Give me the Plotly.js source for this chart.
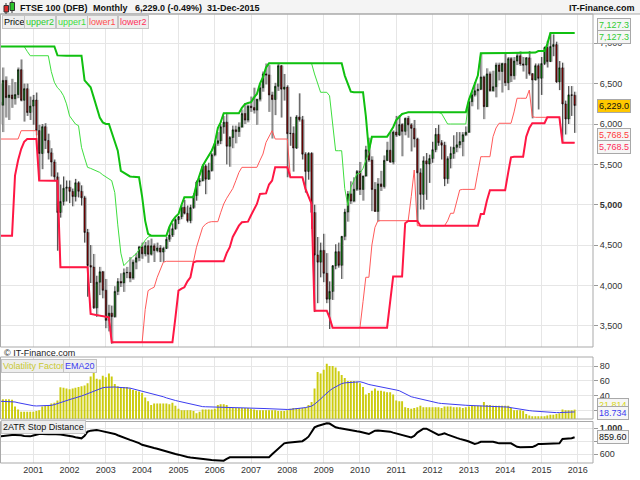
<!DOCTYPE html>
<html><head><meta charset="utf-8">
<script src="https://cdn.plot.ly/plotly-3.0.1.min.js"></script>
<style>html,body{margin:0;padding:0;background:#fff}#chart{width:640px;height:480px}</style>
</head><body><div id="chart"></div>
<script>
// Monthly bars from Feb 2000 to Dec 2015
const firstYear = 2000, firstMonth = 2;
const openPx = [6268,6233,6540,6327,6359,6313,6365,6673,6294,6438,6142,
6222,6297,5918,5634,5967,5796,5643,5529,5345,4903,5040,5204,
5217,5165,5101,5272,5166,5085,4656,4246,4227,3722,4040,4169,
3940,3567,3656,3613,3926,4048,4031,4157,4161,4091,4288,4343,
4477,4391,4492,4386,4490,4431,4464,4413,4459,4571,4624,4703,
4814,4852,4968,4894,4802,4964,5113,5282,5297,5478,5317,5423,
5619,5760,5792,5965,6023,5724,5833,5928,5906,5961,6129,6049,
6221,6203,6172,6308,6449,6621,6608,6360,6303,6467,6722,6432,
6457,5880,5884,5702,6087,6054,5626,5412,5637,4903,4377,4288,
4434,4150,3830,3926,4244,4418,4249,4608,4909,5134,5045,5191,
5413,5189,5355,5680,5553,5188,4917,5258,5225,5549,5675,5528,
5900,5863,5994,5909,6070,5990,5946,5815,5395,5128,5544,5505,
5572,5682,5872,5768,5738,5321,5571,5635,5711,5742,5783,5867,
5898,6277,6361,6412,6430,6583,6215,6621,6413,6462,6731,6651,
6749,6510,6810,6598,6780,6845,6744,6730,6820,6623,6546,6723,
6566,6749,6947,6773,6961,6984,6521,6696,6248,6062,6361,6356];
const highPx = [6500,6700,6590,6480,6560,6520,6700,6800,6500,6500,6340,
6360,6390,5990,6000,6010,5880,5700,5560,5400,5250,5350,5300,
5300,5200,5320,5290,5240,5110,4700,4500,4390,4120,4230,4180,
4080,3760,3750,3990,4090,4150,4210,4230,4350,4320,4400,4490,
4530,4540,4560,4580,4520,4530,4500,4480,4600,4720,4770,4830,
4860,5000,5060,4990,5000,5140,5300,5330,5500,5500,5520,5640,
5780,5900,6000,6100,6140,5850,5980,5980,6020,6180,6260,6240,
6340,6450,6310,6500,6650,6750,6730,6400,6510,6750,6730,6620,
6480,6090,5970,6110,6380,6100,5650,5650,5650,5000,4600,4530,
4640,4400,4050,4250,4510,4530,4610,4950,5170,5290,5340,5430,
5530,5360,5730,5830,5600,5280,5330,5420,5610,5780,5900,5920,
6100,6110,6010,6080,6100,6010,6050,5830,5450,5600,5640,5620,
5780,5950,5990,5800,5780,5600,5720,5860,5900,5900,5900,5970,
6290,6400,6520,6500,6876,6600,6690,6650,6660,6760,6760,6760,
6870,6830,6830,6830,6880,6900,6830,6830,6904,6630,6750,6750,
6830,6960,7030,7127,7110,7020,6780,6760,6290,6470,6470,6400];
const lowPx = [6000,5900,6080,6050,6200,6240,6320,6280,6030,6100,6050,
5990,5860,5310,5440,5690,5560,5350,5300,4430,4840,4990,5040,
5020,4980,5040,5090,4990,4530,3860,4030,3710,3610,3880,3840,
3470,3430,3277,3600,3880,3980,3920,4090,4040,4070,4200,4300,
4330,4360,4280,4370,4290,4410,4290,4290,4450,4540,4600,4690,
4760,4820,4880,4780,4770,4950,5050,5230,5290,5130,5310,5410,
5600,5730,5750,5880,5500,5470,5700,5760,5840,5960,6000,6020,
6150,6130,5990,6280,6400,6490,6150,5820,6110,6410,6080,6290,
5340,5730,5410,5690,6030,5560,5150,5310,4700,3670,3780,4100,
4040,3780,3460,3820,4200,4220,4080,4560,4790,5010,5030,5170,
5120,5050,5350,5530,4920,4910,4790,5170,5200,5540,5520,5500,
5840,5850,5600,5860,5830,5660,5710,4790,4940,4940,5060,5270,
5520,5650,5730,5560,5230,5260,5450,5570,5650,5700,5600,5850,
5890,6220,6340,6180,6420,6060,6210,6400,6400,6330,6540,6390,
6470,6420,6520,6550,6730,6720,6650,6560,6600,6070,6540,6180,
6360,6730,6700,6770,6840,6510,6420,5768,5870,6000,6100,5890];
const closePx = [6233,6540,6327,6359,6313,6365,6673,6294,6438,6142,6222,
6297,5918,5634,5967,5796,5643,5529,5345,4903,5040,5204,5217,
5165,5101,5272,5166,5085,4656,4246,4227,3722,4040,4169,3940,
3567,3656,3613,3926,4048,4031,4157,4161,4091,4288,4343,4477,
4391,4492,4386,4490,4431,4464,4413,4459,4571,4624,4703,4814,
4852,4968,4894,4802,4964,5113,5282,5297,5478,5317,5423,5619,
5760,5792,5965,6023,5724,5833,5928,5906,5961,6129,6049,6221,
6203,6172,6308,6449,6621,6608,6360,6303,6467,6722,6432,6457,
5880,5884,5702,6087,6054,5626,5412,5637,4903,4377,4288,4434,
4150,3830,3926,4244,4418,4249,4608,4909,5134,5045,5191,5413,
5189,5355,5680,5553,5188,4917,5258,5225,5549,5675,5528,5900,
5863,5994,5909,6070,5990,5946,5815,5395,5128,5544,5505,5572,
5682,5872,5768,5738,5321,5571,5635,5711,5742,5783,5867,5898,
6277,6361,6412,6430,6583,6215,6621,6413,6462,6731,6651,6749,
6510,6810,6598,6780,6845,6744,6730,6820,6623,6546,6723,6566,
6749,6947,6773,6961,6984,6521,6696,6248,6062,6361,6356,6229];

const upper2 = [6960,6960,6960,6960,6960,6960,6960,6960,6960,6960,6960,
6960,6960,6960,6960,6960,6960,6960,6960,6850,6846,6846,6846,
6846,6846,6846,6846,6846,6540,6500,6455,6330,6200,6080,6020,
6000,6000,5900,5790,5670,5420,5400,5380,5350,5345,5340,5340,
5100,4800,4640,4616,4616,4616,4616,4616,4616,4724,4800,4850,
4885,5000,5092,5092,5092,5092,5250,5380,5480,5545,5610,5669,
5760,5950,6020,6133,6133,6133,6133,6133,6133,6200,6248,6260,
6270,6330,6372,6500,6579,6700,6752,6752,6752,6752,6752,6752,
6752,6752,6752,6752,6752,6752,6752,6752,6752,6752,6752,6752,
6752,6752,6752,6752,6752,6752,6752,6600,6500,6400,6393,6393,
6393,6393,6100,5669,5843,5843,5843,5843,5843,5843,5900,5960,
6050,6090,6124,6135,6145,6145,6145,6145,6145,6145,6145,6145,
6145,6145,6145,6145,6145,6145,6145,6145,6145,6145,6145,6145,
6300,6413,6500,6600,6876,6876,6876,6876,6876,6876,6876,6876,
6876,6876,6876,6876,6876,6885,6885,6885,6885,6885,6885,6904,
6904,6904,6990,7127.3,7127.3,7127.3,7127.3,7127.3,7127.3,7127.3,7127.3,7127.3];
const upper1 = [6960,6960,6960,6960,6960,6960,6960,6960,6960,6900,6846,
6846,6846,6846,6846,6846,6846,6650,6517,6450,6413,6350,6250,
6100,6041,6000,5979,5711,5580,5463,5450,5430,5421,5400,5370,
5340,5320,5298,5150,4750,4400,4245,4287,4320,4360,4389,4450,
4513,4560,4600,4616,4616,4616,4616,4616,4616,4724,4800,4850,
4885,5000,5092,5092,5092,5092,5250,5380,5480,5545,5610,5669,
5760,5950,6020,6133,6133,6133,6133,6133,6133,6200,6248,6260,
6270,6330,6372,6500,6579,6700,6752,6752,6752,6752,6752,6752,
6752,6752,6752,6752,6752,6752,6752,6752,6752,6620,6500,6393,
6393,6393,6350,6000,5669,5669,5669,5200,4988,5216,5300,5380,
5390,5450,5550,5640,5843,5843,5843,5843,5843,5843,5900,5960,
6050,6090,6124,6135,6145,6145,6145,6145,6145,6145,6145,6145,
6145,6145,6145,6130,6060,6000,6000,6000,6000,6000,6000,6000,
6300,6413,6500,6600,6876,6876,6876,6876,6876,6876,6876,6876,
6876,6876,6876,6876,6876,6885,6885,6885,6885,6885,6885,6904,
6904,6904,6990,7127.3,7127.3,7127.3,7127.3,7127.3,7127.3,7127.3,7127.3,7127.3];
const lower1 = [5814,5814,5814,5814,5814,5814,5814,5917,5917,5917,5917,
5917,5917,5300,5298,5298,5298,5298,5298,5298,4225,4225,4225,
4225,4225,4225,4225,4225,4225,4225,3646,3640,3630,3625,3615,
3610,3605,3295,3295,3295,3295,3295,3295,3295,3295,3295,3295,
3295,3700,3935,3960,3977,4101,4200,4287,4299,4299,4299,4299,
4299,4299,4299,4299,4299,4299,4473,4600,4720,4760,4782,4790,
4790,4790,4900,5009,5080,5133,5200,5298,5400,5463,5463,5463,
5463,5463,5463,5550,5628,5773,5835,5917,5814,5814,5814,5814,
5814,5340,5340,5340,5340,5340,5200,5092,5009,3687,3687,3687,
3687,3687,3600,3476,3476,3476,3476,3476,3476,3476,3476,3476,
3476,3800,4101,4101,4500,4720,4802,4802,4802,4802,4802,4802,
4802,4802,4802,4802,4802,5100,5430,4740,4740,4740,4740,4740,
4740,4740,4740,4740,4740,4800,4894,4894,5050,5183,5190,5190,
5190,5190,5190,5400,5595,5595,5595,5595,5843,5950,6009,6009,
6009,6009,6009,6150,6319,6319,6319,6319,6421,6091,6083,6083,
6083,6083,6083,6083,6083,6083,6083,5768.5,5768.5,5768.5,5768.5,5768.5];
const lower2 = [4616,4616,4616,4616,4616,5360,5550,5690,5780,5814,5814,
5814,5814,5300,5298,5298,5298,5298,5298,5298,4225,4225,4225,
4225,4225,4225,4225,4225,4225,4225,3646,3640,3630,3625,3615,
3610,3605,3295,3295,3295,3295,3295,3295,3295,3295,3295,3295,
3295,3295,3295,3295,3295,3295,3295,3295,3295,3295,3295,3600,
3935,3960,3977,4050,4101,4287,4299,4299,4299,4299,4299,4299,
4299,4299,4299,4299,4400,4473,4600,4678,4740,4782,4790,4790,
4870,4950,5009,5133,5140,5140,5250,5298,5463,5463,5463,5463,
5463,5340,5340,5340,5340,5340,5200,5092,5009,3687,3687,3687,
3687,3687,3600,3476,3476,3476,3476,3476,3476,3476,3476,3476,
3476,3476,3476,3476,3476,3476,3476,3476,3476,3476,3800,4110,
4110,4110,4110,4770,4798,4798,4798,4798,4740,4740,4740,4740,
4740,4740,4740,4740,4740,4740,4740,4740,4740,4740,4740,4740,
4740,4740,4740,4740,4885,4885,5050,5180,5180,5180,5180,5180,
5180,5400,5588,5595,5595,5595,5595,5843,5950,6009,6009,6009,
6009,6009,6083,6083,6083,6083,6083,5768.5,5768.5,5768.5,5768.5,5768.5];

const volFactor = [35.6,35.6,35.6,35.6,35,26,22,19,19,19,19,
19,20,21,26,27,28,30,31,34,51.6,51,50,
49,50,51,52,53,54,57,66,71,63,62,67,
65,70,66,56,53,52,52,52,50,48,47,46,
44,38,33,28,30,30,30,30,30,29,31,27,
23,21,21,21,21,20,17,19,22,22,22,22,
23,28,29,29,28,25,24,24,24,24,24,24,
23,22,21,21,21,21,21,21,21,20,20,20,
21,23,24,24,24,24,25,28,32,50,72,70,
75,83,80,80,78,73,68,64,60,60,60,59,
57,52,42,44,47,50,47,47,46,45,45,42,
34,33,33,25,24,23,24,25,27,25,25,25,
25,25,25,24,26,26,26,25,25,25,24,25,
26,27,27,27,27,32,28,28,27,27,27,27,
27,27,24,21,21,21,20,16,14,13,13,13,
13,13,14,15,15,16,17,22,21,21,21,21.814];
const ema20 = [33,33,33,33,33,32,31,30,29,28,27.5,
27,26.7,26.7,26.7,26.7,27,27.5,28.5,30,31.5,33,34.5,
35.6,36.5,37.5,38.5,40,41.5,43,45,47,48.5,50,51,
51.6,52,52,52,51.6,51.5,51.3,51,50.5,49.5,48.5,47,
46,45,44,43,42,41,40,39,37.5,36,35,34,
33,32,31,30,29,28,27,26,25.8,25.6,25.5,25.4,
25.3,25.3,25.3,25.3,25.3,25.2,25.1,25,24.9,24.8,24.6,24.5,
24.3,24.1,24,23.8,23.5,23.2,23,22.7,22.4,22.2,22,22,
22,22.2,22.5,23,23.5,24,24.5,25.5,26.5,29,32,36,
40,44,47,50,52.5,54.5,56.5,57.5,58,58.5,58.8,59,
59,58,56.5,55.3,54.5,53.8,53,52.3,51.5,50.8,50,49,
48,47,45,43,41,39,38,37,35.5,34.5,33.5,32.7,
32,31,30.5,30,29.6,29.2,28.8,28.4,28.2,28,27.8,27.6,
27.4,27.2,27,27,27,27,27,26.8,26.6,26.5,26.3,26.2,
26,25.2,24.4,23.6,22.8,22,21.5,21,20.5,20,19.6,19.2,
18.9,18.6,18.3,18,17.8,17.8,17.9,18.1,18.3,18.5,18.6,18.734];
const stopDist = [873,880,885,890,893,895,898,890,880,875,873,
885,900,909,909,905,905,909,909,905,900,895,890,
880,870,860,850,843,880,944,960,970,970,960,950,
944,935,925,910,890,870,850,835,820,805,792,770,
745,730,720,710,695,685,670,655,640,628,615,605,
595,580,568,560,552,545,538,530,525,520,516,513,
510,506,503,503,530,554,554,554,554,554,554,554,
554,554,554,554,554,554,556,600,640,680,730,767,
775,780,785,790,792,800,830,868,940,1010,1030,1045,
1060,1071,1068,1040,1010,1000,990,980,975,965,955,950,
944,930,915,909,935,960,962,960,958,955,945,930,
919,905,893,880,870,858,880,930,960,990,990,965,
944,920,895,905,919,900,880,865,850,835,828,810,
795,775,757,770,790,792,792,795,792,780,767,770,
770,768,767,740,715,706,705,705,706,710,730,757,
757,757,760,762,765,767,767,833,835,838,845,859.6];

const priceTicks = [3500,4000,4500,5000,5500,6000,6500,7000];
const volTicks = [20,40,60,80];
const stopTicks = [600,800,1000];

const n = closePx.length;
[openPx,highPx,lowPx,upper2,upper1,lower1,lower2,volFactor,ema20,stopDist].forEach((a,k)=>{
  if(a.length!==n) throw new Error('length mismatch in array '+k+': '+a.length+' vs '+n);
});

const months = [];
for (let k=0;k<n;k++){
  const m0 = firstMonth-1+k;
  const y = firstYear + Math.floor(m0/12);
  const m = m0%12+1;
  months.push(y+'-'+String(m).padStart(2,'0')+'-01');
}
const shadowX = months.map(d=>d.slice(0,8)+'13');

const px = x => x/640, py = y => 1 - y/480;
const fmt = (v,d) => v.toLocaleString('en-US',{minimumFractionDigits:d,maximumFractionDigits:d});
const last = a => a[a.length-1];

const FONT = 'Liberation Sans, Arial, sans-serif';

const traces = [
  {type:'candlestick', x:shadowX, open:openPx, high:highPx, low:lowPx, close:closePx, xaxis:'x', yaxis:'y',
   increasing:{line:{color:'#b8b8b8',width:1},fillcolor:'#b8b8b8'},
   decreasing:{line:{color:'#b8b8b8',width:1},fillcolor:'#b8b8b8'}, whiskerwidth:0, hoverinfo:'skip'},
  {type:'candlestick', x:months, open:openPx, high:highPx, low:lowPx, close:closePx, xaxis:'x', yaxis:'y',
   increasing:{line:{color:'#000000',width:0.7},fillcolor:'#00b000'},
   decreasing:{line:{color:'#000000',width:0.7},fillcolor:'#d00000'}, whiskerwidth:0},
  {type:'scatter', mode:'lines', x:months, y:upper1, line:{color:'#3ede3e',width:1}, xaxis:'x', yaxis:'y'},
  {type:'scatter', mode:'lines', x:months, y:lower1, line:{color:'#ff5a5a',width:1}, xaxis:'x', yaxis:'y'},
  {type:'scatter', mode:'lines', x:months, y:upper2, line:{color:'#10c010',width:2}, xaxis:'x', yaxis:'y'},
  {type:'scatter', mode:'lines', x:months, y:lower2, line:{color:'#ff1744',width:2}, xaxis:'x', yaxis:'y'},
  {type:'bar', x:months, y:volFactor, marker:{color:'#cccc10',line:{width:0}}, xaxis:'x', yaxis:'y2'},
  {type:'scatter', mode:'lines', x:months, y:ema20, line:{color:'#3c3cf0',width:1}, xaxis:'x', yaxis:'y2'},
  {type:'scatter', mode:'lines', x:months, y:stopDist, line:{color:'#000000',width:2}, xaxis:'x', yaxis:'y3'}
];

const gridC = '#e6e6e6';
const yCommon = {side:'right', anchor:'x', showgrid:true, gridcolor:gridC, zeroline:false, ticks:'outside',
  ticklen:4, tickcolor:'#999', tickfont:{family:FONT,size:9,color:'#333'}, showline:false, fixedrange:true};

const boxLabel = (text, yref, y, yshift, color, bg) => ({
  xref:'paper', x:px(597), xanchor:'left', yref:yref, y:y, yshift:yshift, yanchor:'middle',
  text:text, showarrow:false, font:{family:FONT,size:9,color:color},
  bgcolor:bg||'#f6f6f6', bordercolor:'#a8a8a8', borderwidth:1, borderpad:1
});
const legendBox = (text, x, y, color) => ({
  xref:'paper', x:px(x), xanchor:'left', yref:'paper', y:py(y), yanchor:'middle',
  text:text, showarrow:false, font:{family:FONT,size:9,color:color},
  bgcolor:'#eeeeee', bordercolor:'#c4c4c4', borderwidth:1, borderpad:1
});
const headText = (text, x, anchor) => ({
  xref:'paper', x:px(x), xanchor:anchor||'left', yref:'paper', y:py(7.5), yanchor:'middle',
  text:'<b>'+text+'</b>', showarrow:false, font:{family:FONT,size:9,color:'#111'}
});

const annotations = [
  headText('FTSE 100 (DFB)',18), headText('Monthly',91), headText(fmt(last(closePx),1)+' (-0.49%)',133),
  headText('31-Dec-2015',205), headText('IT-Finance.com',637,'right'),
  legendBox('Price',2,22,'#000'), legendBox('upper2',24,22,'#2ecc2e'), legendBox('upper1',56,22,'#3ede3e'),
  legendBox('lower1',87,22,'#ff4d4d'), legendBox('lower2',118,22,'#ff2d5a'),
  {xref:'paper',x:px(2),xanchor:'left',yref:'paper',y:py(353),yanchor:'middle',text:'© IT-Finance.com',
   showarrow:false,font:{family:FONT,size:9,color:'#222'}},
  legendBox('Volatility Factor',1,366,'#c8c832'), legendBox('EMA20',63,366,'#3c3cf0'),
  legendBox('2ATR Stop Distance',1,427,'#111'),
  boxLabel(fmt(last(upper2),1),'y',last(upper2),8,'#33cc33'),
  boxLabel(fmt(last(upper1),1),'y',last(upper1),-4,'#33cc33'),
  boxLabel(fmt(last(closePx),1),'y',last(closePx),0,'#111','#ffc800'),
  boxLabel(fmt(last(lower1),1),'y',last(lower1),8,'#ff3b3b'),
  boxLabel(fmt(last(lower2),1),'y',last(lower2),-4,'#ff2d5a'),
  boxLabel(fmt(last(volFactor),3),'y2',last(volFactor),5,'#d6d620'),
  boxLabel(fmt(last(ema20),3),'y2',last(ema20),-1,'#3c3cf0'),
  boxLabel(fmt(last(stopDist),2),'y3',last(stopDist),0,'#111')
];

const frame = (y0,y1) => ({type:'rect', xref:'paper', yref:'paper', x0:px(0.5), x1:px(593), y0:py(y1), y1:py(y0),
  line:{color:'#a9a9a9',width:1}, fillcolor:'rgba(0,0,0,0)', layer:'above'});

const shapes = [
  {type:'rect', xref:'paper', yref:'paper', x0:0, x1:1, y0:py(14), y1:1, fillcolor:'#f4f4f4', line:{width:0}, layer:'below'},
  {type:'line', xref:'paper', yref:'paper', x0:0, x1:1, y0:py(14), y1:py(14), line:{color:'#a9a9a9',width:1}},
  frame(14,347), frame(357,419), frame(421.5,463),
  {type:'line', xref:'paper', yref:'paper', x0:px(6), x1:px(6), y0:py(3), y1:py(14), line:{color:'#333',width:1}},
  {type:'rect', xref:'paper', yref:'paper', x0:px(4), x1:px(8.5), y0:py(12), y1:py(5.5), fillcolor:'#dd2a2a', line:{color:'#333',width:1}},
  {type:'line', xref:'paper', yref:'paper', x0:px(12), x1:px(12), y0:py(0.5), y1:py(13), line:{color:'#333',width:1}},
  {type:'rect', xref:'paper', yref:'paper', x0:px(10), x1:px(14.5), y0:py(10.5), y1:py(2.5), fillcolor:'#2cc42c', line:{color:'#333',width:1}}
];

const layout = {
  width:640, height:480, margin:{l:0,r:0,t:0,b:0,pad:0},
  paper_bgcolor:'#ffffff', plot_bgcolor:'#ffffff', showlegend:false,
  font:{family:FONT,size:9,color:'#333'}, separators:'.,',
  bargap:0.3, boxgap:0.02, boxgroupgap:0, hovermode:false,
  xaxis:{type:'date', domain:[px(1),px(593)], range:['2000-02-11','2016-06-03'], anchor:'y3',
    showgrid:true, gridcolor:gridC, dtick:'M12', tick0:'2001-01-01', tickformat:'%Y', ticks:'',
    tickfont:{family:FONT,size:9,color:'#333'}, rangeslider:{visible:false}, zeroline:false, showline:false, fixedrange:true},
  yaxis:Object.assign({}, yCommon, {domain:[py(347),py(14)], range:[3237,7363], tickvals:priceTicks,
    ticktext:priceTicks.map(v=> v===5000 ? '<b>'+fmt(v,0)+'</b>' : fmt(v,0))}),
  yaxis2:Object.assign({}, yCommon, {domain:[py(419),py(357)], range:[9.3,92], tickvals:volTicks,
    ticktext:volTicks.map(String)}),
  yaxis3:Object.assign({}, yCommon, {domain:[py(463),py(421.5)], range:[468,1099], tickvals:stopTicks,
    ticktext:stopTicks.map(v=> v===1000 ? '<b>'+fmt(v,0)+'</b>' : fmt(v,0))}),
  shapes:shapes, annotations:annotations
};

Plotly.newPlot('chart', traces, layout, {staticPlot:true, displayModeBar:false});
</script>
</body></html>
